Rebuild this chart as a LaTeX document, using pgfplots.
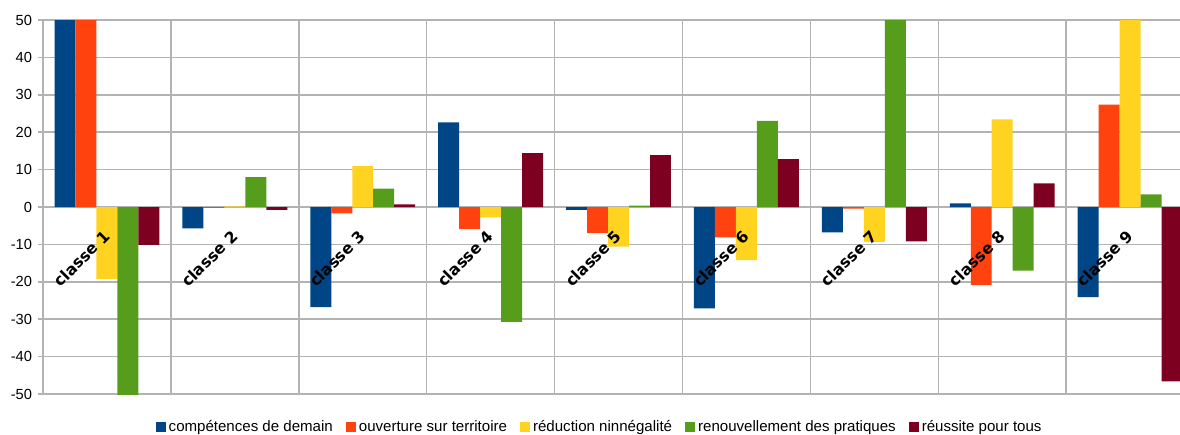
\documentclass[border=0pt]{standalone}
\usepackage{pgfplots}
\pgfplotsset{compat=1.18}
\usepackage{fontspec}
\setmainfont{Liberation Sans}
\newfontfamily\labelfont{DejaVu Sans}
\usetikzlibrary{calc}

\definecolor{cA}{HTML}{004586}
\definecolor{cB}{HTML}{FF420E}
\definecolor{cC}{HTML}{FFD320}
\definecolor{cD}{HTML}{579D1C}
\definecolor{cE}{HTML}{7E0021}
\definecolor{gridgrey}{HTML}{B3B3B3}

\begin{document}
\begin{tikzpicture}
\begin{axis}[name=ax,
    scale only axis,
    width=852.75pt, height=280.5pt,
    ybar=0pt, bar width=0.164,
    xmin=0.5, xmax=9.39,
    ymin=-50, ymax=50,
    ytick distance=10,
    xtick={0.5,1.5,...,8.5},
    xticklabels={},
    xtick style={draw=none},
    xmajorgrids=true,
    ymajorgrids=true,
    grid style={gridgrey, line width=1.1pt},
    axis line style={draw=none},
    tick align=outside,
    major tick length=3.75pt,
    tick style={gridgrey, line width=1.1pt},
    tick label style={font=\fontsize{11}{13}\selectfont, /pgf/number format/assume math mode=true},
    yticklabel style={xshift=-1pt},
    legend columns=5,
    legend style={draw=none, at={(0.49,-0.088)}, anchor=center,
                  font=\fontsize{11.3}{13}\selectfont,
                  /tikz/every even column/.append style={column sep=8pt}},
    legend image code/.code={\fill[#1] (0pt,-3.5pt) rectangle (7.5pt,4pt);},
]
\addplot[fill=cA, draw=none] coordinates {(1,55) (2,-5.7) (3,-26.8) (4,22.6) (5,-0.8) (6,-27.1) (7,-6.8) (8,1.0) (9,-24.1)};
\addplot[fill=cB, draw=none] coordinates {(1,55) (2,-0.2) (3,-1.7) (4,-5.9) (5,-7.0) (6,-8.1) (7,-0.4) (8,-20.9) (9,27.4)};
\addplot[fill=cC, draw=none] coordinates {(1,-19.2) (2,0.2) (3,10.9) (4,-2.8) (5,-10.6) (6,-14.2) (7,-9.3) (8,23.4) (9,55)};
\addplot[fill=cD, draw=none] coordinates {(1,-55) (2,8.0) (3,4.9) (4,-30.7) (5,0.4) (6,23.0) (7,55) (8,-17.0) (9,3.4)};
\addplot[fill=cE, draw=none] coordinates {(1,-10.1) (2,-0.8) (3,0.7) (4,14.4) (5,13.9) (6,12.8) (7,-9.2) (8,6.3) (9,-46.6)};
\legend{compétences de demain, ouverture sur territoire, réduction ninnégalité, renouvellement des pratiques, réussite pour tous}
\pgfplotsinvokeforeach{1,...,9}{
  \node[rotate=45, anchor=east, inner sep=0pt, font=\labelfont\bfseries\fontsize{11.8}{13}\selectfont] at (axis cs:#1,-7) {classe #1};
}
\end{axis}
\pgfresetboundingbox
\path ($(ax.south west)+(-32.25pt,-30pt)$) rectangle ($(ax.north east)+(0pt,15pt)$);
\end{tikzpicture}
\end{document}
